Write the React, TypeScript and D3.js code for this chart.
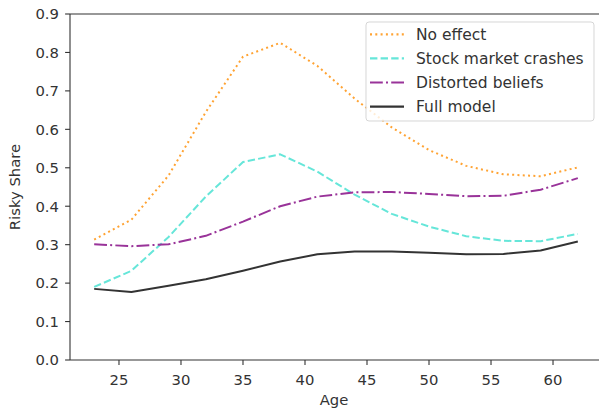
import React from 'react';
import * as d3 from 'd3';

// ages sampled every 3 years
const ages = [23, 26, 29, 32, 35, 38, 41, 44, 47, 50, 53, 56, 59, 62];

const noEffect = [0.313, 0.365, 0.48, 0.645, 0.789, 0.825, 0.765, 0.68, 0.605, 0.546, 0.505, 0.483, 0.478, 0.501];
const stockCrashes = [0.19, 0.232, 0.32, 0.425, 0.515, 0.535, 0.49, 0.43, 0.38, 0.347, 0.322, 0.31, 0.309, 0.328];
const distorted = [0.301, 0.296, 0.301, 0.323, 0.36, 0.4, 0.425, 0.436, 0.437, 0.432, 0.426, 0.427, 0.443, 0.473];
const fullModel = [0.185, 0.177, 0.193, 0.21, 0.232, 0.256, 0.275, 0.282, 0.282, 0.279, 0.275, 0.276, 0.285, 0.308];

const xTicks = [25, 30, 35, 40, 45, 50, 55, 60];
const yTicks = [0, 0.1, 0.2, 0.3, 0.4, 0.5, 0.6, 0.7, 0.8, 0.9];

const series = [
  { name: 'No effect', values: noEffect, color: 'rgb(255,163,51)', dash: '2,3.3' },
  { name: 'Stock market crashes', values: stockCrashes, color: 'rgb(102,230,217)', dash: '7.4,3.2' },
  { name: 'Distorted beliefs', values: distorted, color: 'rgb(153,51,153)', dash: '12.8,3.2,2,3.2' },
  { name: 'Full model', values: fullModel, color: 'rgb(51,51,51)', dash: null },
];

const W = 599, H = 410;
const left = 70, top = 14, bottom = 360, right = 602;
const font = 'DejaVu Sans, sans-serif';
const fs = 14.8;
const lfs = 15.5;
const ink = '#333';

export default function App() {
  const x = d3.scaleLinear().domain([21.05, 63.95]).range([left, right]);
  const y = d3.scaleLinear().domain([0, 0.9]).range([bottom, top]);

  const line = d3.line<number>()
    .x((d, i) => x(ages[i]))
    .y(d => y(d));

  const lgX = 366, lgY = 22, lgW = 228, lgH = 99;

  return (
    <svg width={W} height={H} style={{ position: 'absolute', left: 0, top: 0, background: '#fff' }}
      fontFamily={font}>
      <defs>
        <clipPath id="plotclip">
          <rect x={left} y={top} width={right - left} height={bottom - top} />
        </clipPath>
      </defs>

      <g clipPath="url(#plotclip)">
        {series.map(s => (
          <path key={s.name} d={line(s.values) || ''} fill="none" stroke={s.color}
            strokeWidth={2} strokeDasharray={s.dash || undefined}
            strokeLinejoin="round" />
        ))}
      </g>

      {/* spines */}
      <g stroke={ink} strokeWidth={1.1} fill="none">
        <line x1={left} x2={left} y1={top} y2={bottom} />
        <line x1={left} x2={right} y1={bottom} y2={bottom} />
        <line x1={left} x2={right} y1={top} y2={top} />
        <line x1={right} x2={right} y1={top} y2={bottom} />
      </g>

      {/* y ticks */}
      {yTicks.map(t => (
        <g key={'y' + t}>
          <line x1={left - 4.9} x2={left} y1={y(t)} y2={y(t)} stroke={ink} strokeWidth={1.1} />
          <text x={left - 11} y={y(t)} dy="0.36em" textAnchor="end" fontSize={fs} fill={ink}>
            {t.toFixed(1)}
          </text>
        </g>
      ))}

      {/* x ticks */}
      {xTicks.map(t => (
        <g key={'x' + t}>
          <line x1={x(t)} x2={x(t)} y1={bottom} y2={bottom + 4.9} stroke={ink} strokeWidth={1.1} />
          <text x={x(t)} y={385} textAnchor="middle" fontSize={fs} fill={ink}>{t}</text>
        </g>
      ))}

      <text x={(left + right) / 2 - 2} y={405} textAnchor="middle" fontSize={fs} fill={ink}>Age</text>
      <text transform={`translate(20,${(top + bottom) / 2}) rotate(-90)`} textAnchor="middle"
        fontSize={fs} fill={ink}>Risky Share</text>

      {/* legend */}
      <rect x={lgX} y={lgY} width={lgW} height={lgH} rx={3} fill="#fff" fillOpacity={0.8}
        stroke="#ccc" strokeOpacity={0.8} strokeWidth={1} />
      {series.map((s, i) => {
        const cy = 34.3 + i * 24.1;
        return (
          <g key={'lg' + s.name}>
            <line x1={370} x2={404} y1={cy} y2={cy} stroke={s.color} strokeWidth={2.2}
              strokeDasharray={s.dash || undefined} />
            <text x={416} y={cy} dy="0.36em" fontSize={lfs} fill={ink}>{s.name}</text>
          </g>
        );
      })}
    </svg>
  );
}
